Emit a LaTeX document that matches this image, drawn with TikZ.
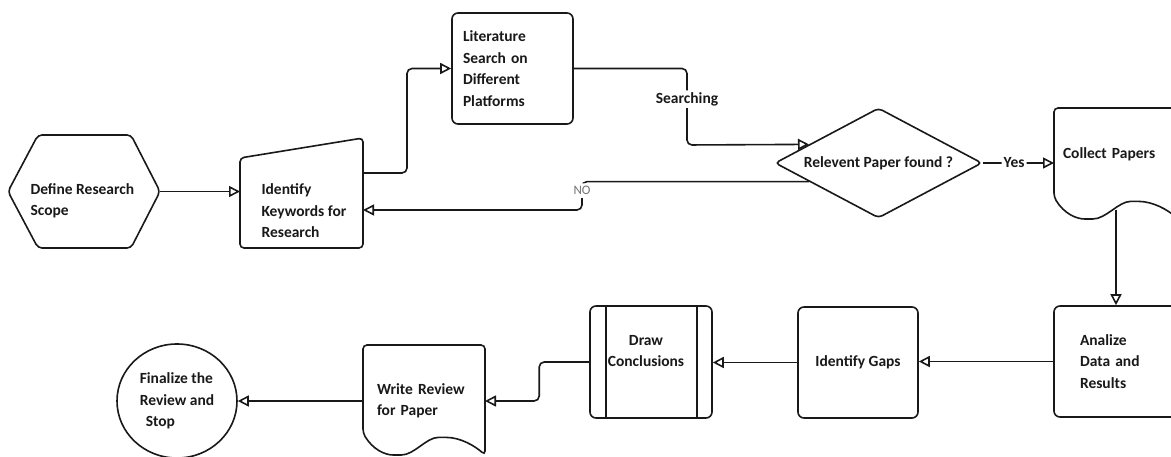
\documentclass[tikz,border=0pt]{standalone}
\usepackage{fontspec}
\setmainfont{Carlito}
\usetikzlibrary{arrows.meta,shapes.geometric}

\begin{document}
\begin{tikzpicture}[x=1pt,y=-1pt,
  every node/.style={font=\bfseries\fontsize{15.5}{21.5}\selectfont, text=black!90},
  shp/.style={draw=black!90, line width=1.6pt, rounded corners=4pt},
  box/.style={shp, rectangle, rounded corners=6pt, inner xsep=11pt, align=left},
  plain/.style={inner sep=0pt, outer sep=0pt},
  flow/.style={draw=black!90, line width=1.6pt, rounded corners=5pt,
    -{Triangle[open,length=11pt,width=11pt]}},
  lbl/.style={fill=white, inner sep=2pt},
  nolbl/.style={fill=white, inner sep=3pt, font=\fontsize{13}{15}\selectfont, text=black!55}]
\useasboundingbox (0,0) rectangle (1171,457);
\clip (0,0) rectangle (1171,457);
\fill[white] (0,0) rectangle (1171,457);

\node[plain, minimum width=152pt, minimum height=113pt] (scope) at (84,191.5) {};
\draw[shp] (scope.west) -- ([xshift=30pt]scope.north west) -- ([xshift=-29pt]scope.north east)
  -- (scope.east) -- ([xshift=-29pt]scope.south east) -- ([xshift=30pt]scope.south west) -- cycle;
\node[anchor=west, align=left] (scopetxt) at (27,201) {Define Research\\Scope};

\node[plain, minimum width=123pt, minimum height=110pt] (kw) at (301.5,193) {};
\draw[shp] (kw.south west) -- ([yshift=-20pt]kw.north west) -- (kw.north east) -- (kw.south east) -- cycle;
\node[anchor=west, align=left] (kwtxt) at (258,211) {Identify\\Keywords for\\Research};

\node[box, minimum height=111pt, text width=99pt] (lit) at (512.5,68.5)
  {Literature\\Search on\\Different\\Platforms};

\node[diamond, shp, shape aspect=2, inner sep=0pt, minimum width=207pt, minimum height=110pt]
  (decide) at (878.5,163) {Relevent Paper found ?};

\node[plain, inner xsep=9pt, text width=106pt, minimum height=92pt, align=left] (collect) at (1116,154) {Collect Papers};
\draw[shp] (1116,108) -- (1054,108) -- (1054,197) .. controls (1063.9,213.5) and (1076.3,219) .. (1088.7,219)
  .. controls (1106.1,219) and (1118.5,201.4) .. (1134.6,201.4) .. controls (1153.2,201.4) and (1168.1,210.2) .. (1178,219)
  -- (1178,108) -- cycle;

\node[box, inner xsep=26pt, text width=72pt, minimum height=111pt] (analize) at (1116,361.5) {Analize\\Data and\\Results};
\node[box, minimum width=120pt, minimum height=111pt, align=center] (gaps) at (858,362.5) {Identify Gaps};

\node[box, minimum width=122pt, minimum height=112pt] (dc) at (651,362) {};
\draw[shp] ([xshift=17pt]dc.north west) -- ([xshift=17pt]dc.south west);
\draw[shp] ([xshift=-16pt]dc.north east) -- ([xshift=-16pt]dc.south east);
\node[align=center] (dctxt) at (646,351) {Draw\\Conclusions};

\node[plain, inner xsep=14pt, text width=94pt, minimum height=112pt, align=left] (write) at (424,401) {Write Review\\for Paper};
\draw[shp] (424,345) -- (363,345) -- (363,433) .. controls (372.8,449.5) and (385,455) .. (397.2,455)
  .. controls (414.2,455) and (426.4,437.4) .. (442.3,437.4) .. controls (460.6,437.4) and (475.2,446.2) .. (485,455)
  -- (485,345) -- cycle;

\node[ellipse, shp, inner sep=0pt, minimum width=120pt, minimum height=114pt, align=left] (fin) at (177,401)
  {Finalize the\\Review and\\\hspace*{6pt}Stop};

\draw[flow] (scope.east) -- (scope.east -| kw.west);
\draw[flow] ([yshift=20pt]kw.east) -- ++(44,0) |- (lit.west);
\draw[flow] (lit.east) -| node[lbl, pos=0.7] (srch) {Searching} (687,145) -- (decide.165.5);
\draw[flow] (decide.195.7) -| node[nolbl, pos=0.66] (no) {NO} (582,210) -- ([yshift=-17pt]kw.east);
\draw[flow] (decide.east) -- node[lbl, pos=0.44] (yes) {Yes} (decide.east -| collect.west);
\draw[flow] ([yshift=-10pt]collect.south) -- (analize.north);
\draw[flow] (analize.west) -- (analize.west -| gaps.east);
\draw[flow] (gaps.west) -- (gaps.west -| dc.east);
\draw[flow] (dc.west) -- ++(-50,0) |- (write.east);
\draw[flow] (write.west) -- (fin.east);
\end{tikzpicture}
\end{document}
